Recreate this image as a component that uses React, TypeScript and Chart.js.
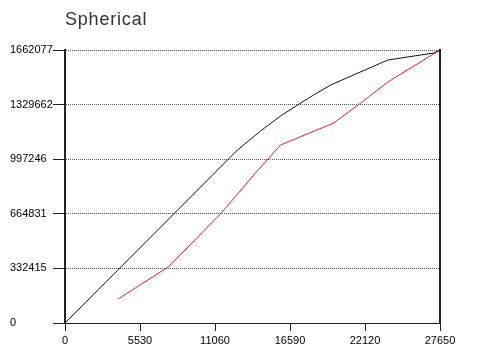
import React, { useEffect, useRef } from "react";
import { Chart, registerables } from "chart.js";

Chart.register(...registerables);

const TITLE = "Spherical";
const X_TICKS = [0, 5530, 11060, 16590, 22120, 27650];
const Y_TICKS = [0, 332415, 664831, 997246, 1329662, 1662077];

const BLACK_X = [0, 12716, 14416, 15895, 17152, 18335, 19591, 23805, 27206, 27650];
const BLACK_Y = [0, 1053259, 1168934, 1260257, 1327228, 1388110, 1448992, 1601197, 1643814, 1662077];

const RED_X = [3918, 7615, 11459, 14047, 15895, 19813, 21809, 23805, 27650];
const RED_Y = [146117, 340939, 663614, 913230, 1083700, 1217640, 1339404, 1467256, 1662077];

const toPts = (xs: number[], ys: number[]) => xs.map((x, i) => ({ x, y: ys[i] }));

export default function App() {
  const ref = useRef<HTMLCanvasElement>(null);
  useEffect(() => {
    document.body.style.margin = "0";
    const font = { family: "'Liberation Sans', Arial, sans-serif", size: 11 };
    const chart = new Chart(ref.current!, {
      type: "scatter",
      data: {
        datasets: [
          {
            data: toPts(BLACK_X, BLACK_Y),
            showLine: true,
            borderColor: "#111",
            borderWidth: 1,
            pointRadius: 0,
            tension: 0,
          },
          {
            data: toPts(RED_X, RED_Y),
            showLine: true,
            borderColor: "rgb(215,30,65)",
            borderWidth: 1,
            pointRadius: 0,
            tension: 0,
          },
        ],
      },
      options: {
        responsive: false,
        animation: false,
        layout: { padding: { left: 10, top: 50, right: 0, bottom: 0 } },
        plugins: { legend: { display: false }, tooltip: { enabled: false }, title: { display: false } },
        scales: {
          x: {
            type: "linear",
            min: 0,
            max: 27650,
            afterBuildTicks: (s: any) => {
              s.ticks = X_TICKS.map((v) => ({ value: v }));
            },
            afterFit: (s: any) => {
              s.height = 31;
            },
            ticks: { color: "#000", font, padding: 3, maxRotation: 0, autoSkip: false, callback: (v: any) => String(v) },
            grid: { drawOnChartArea: false, drawTicks: true, tickLength: 8, tickColor: "#222", color: "#222" },
            border: { display: true, color: "#222", width: 1 },
          },
          y: {
            type: "linear",
            min: 0,
            max: 1662077,
            afterBuildTicks: (s: any) => {
              s.ticks = Y_TICKS.map((v) => ({ value: v }));
            },
            afterFit: (s: any) => {
              s.width = 55;
            },
            ticks: { color: "#000", font, crossAlign: "far", padding: 2, autoSkip: false, callback: (v: any) => String(v) },
            grid: {
              color: (c: any) => (c.tick && c.tick.value === 0 ? "rgba(0,0,0,0)" : "#555"),
              tickBorderDash: [],
              tickColor: "#222",
              tickLength: 12,
              lineWidth: 1,
            },
            border: { display: true, color: "#222", width: 2, dash: [1, 1] },
          },
          y2: {
            type: "linear",
            position: "right",
            min: 0,
            max: 1662077,
            afterFit: (s: any) => {
              s.width = 38;
            },
            ticks: { display: false },
            grid: { drawOnChartArea: false, drawTicks: false },
            border: { display: true, color: "#222", width: 2 },
          },
        },
      },
    } as any);
    return () => chart.destroy();
  }, []);
  return (
    <div style={{ position: "relative", width: 478, height: 354, background: "#fff" }}>
      <canvas ref={ref} width={478} height={354} />
      <div
        style={{
          position: "absolute",
          left: 65,
          top: 9,
          fontFamily: "'Liberation Sans', Arial, sans-serif",
          fontSize: 18,
          color: "#333",
          letterSpacing: 0.8,
        }}
      >
        {TITLE}
      </div>
    </div>
  );
}
